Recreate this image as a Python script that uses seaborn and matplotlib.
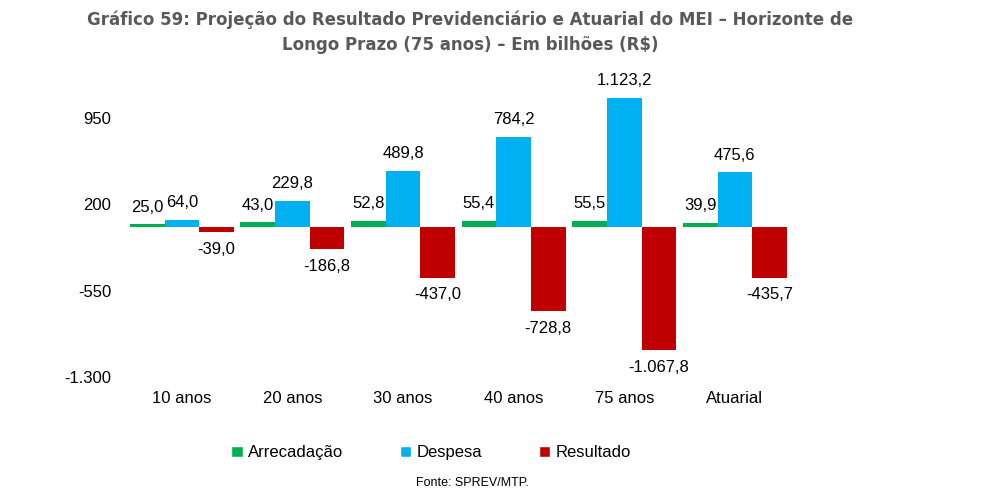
import numpy as np
import pandas as pd
import seaborn as sns
import matplotlib.pyplot as plt
from matplotlib.patches import Patch

categorias = ["10 anos", "20 anos", "30 anos", "40 anos", "75 anos", "Atuarial"]
arrecadacao = [25.0, 43.0, 52.8, 55.4, 55.5, 39.9]
despesa = [64.0, 229.8, 489.8, 784.2, 1123.2, 475.6]
resultado = [-39.0, -186.8, -437.0, -728.8, -1067.8, -435.7]
series = ["Arrecadação", "Despesa", "Resultado"]
cores = ["#00B050", "#00B0F0", "#C00000"]
yticks = [-1300, -550, 200, 950]


def br(v, dec=1):
    s = f"{v:,.{dec}f}"
    return s.replace(",", "X").replace(".", ",").replace("X", ".")


d = pd.DataFrame({
    "cat": categorias * 3,
    "serie": sum([[s] * len(categorias) for s in series], []),
    "valor": arrecadacao + despesa + resultado,
})

sns.set_theme(style="white")
plt.rcParams["font.family"] = ["Liberation Sans", "DejaVu Sans"]

fig = plt.figure(figsize=(9.84, 4.95), dpi=100)
ax = fig.add_axes([0.1286, 0.238, 0.6744, 0.594])

sns.barplot(data=d, x="cat", y="valor", hue="serie", palette=cores,
            width=0.94, saturation=1, legend=False, ax=ax, errorbar=None,
            linewidth=0)

for cont in ax.containers:
    labels = [br(b.get_height()) for b in cont]
    ax.bar_label(cont, labels=labels, padding=7, fontsize=12, color="#000000")

ax.set_ylim(-1300, 1250)
ax.set_yticks(yticks)
ax.set_yticklabels([br(t, 0) for t in yticks], fontsize=12, color="#000000")
ax.set_xlim(-0.5, len(categorias) - 0.5)
ax.tick_params(axis="x", labelsize=12, pad=10, length=0, labelcolor="#000000")
ax.tick_params(axis="y", pad=11, length=0)
ax.set_xlabel("")
ax.set_ylabel("")
for s in ax.spines.values():
    s.set_visible(False)

fig.text(0.478, 0.935,
         "Gráfico 59: Projeção do Resultado Previdenciário e Atuarial do MEI – Horizonte de\nLongo Prazo (75 anos) – Em bilhões (R$)",
         ha="center", va="center", fontsize=12, fontweight="bold",
         color="#595959", family="DejaVu Sans", linespacing=1.45)

handles = [Patch(facecolor=c, label=s) for c, s in zip(cores, series)]
fig.legend(handles=handles, loc="center", bbox_to_anchor=(0.438, 0.085), ncol=3,
           frameon=False, fontsize=12, handlelength=0.7, handleheight=0.7,
           handletextpad=0.3, columnspacing=3.4,
           labelcolor="#000000")

fig.text(0.48, 0.024, "Fonte: SPREV/MTP.", ha="center", va="center",
         fontsize=9, color="#000000")

plt.savefig("out.png", dpi=100)
